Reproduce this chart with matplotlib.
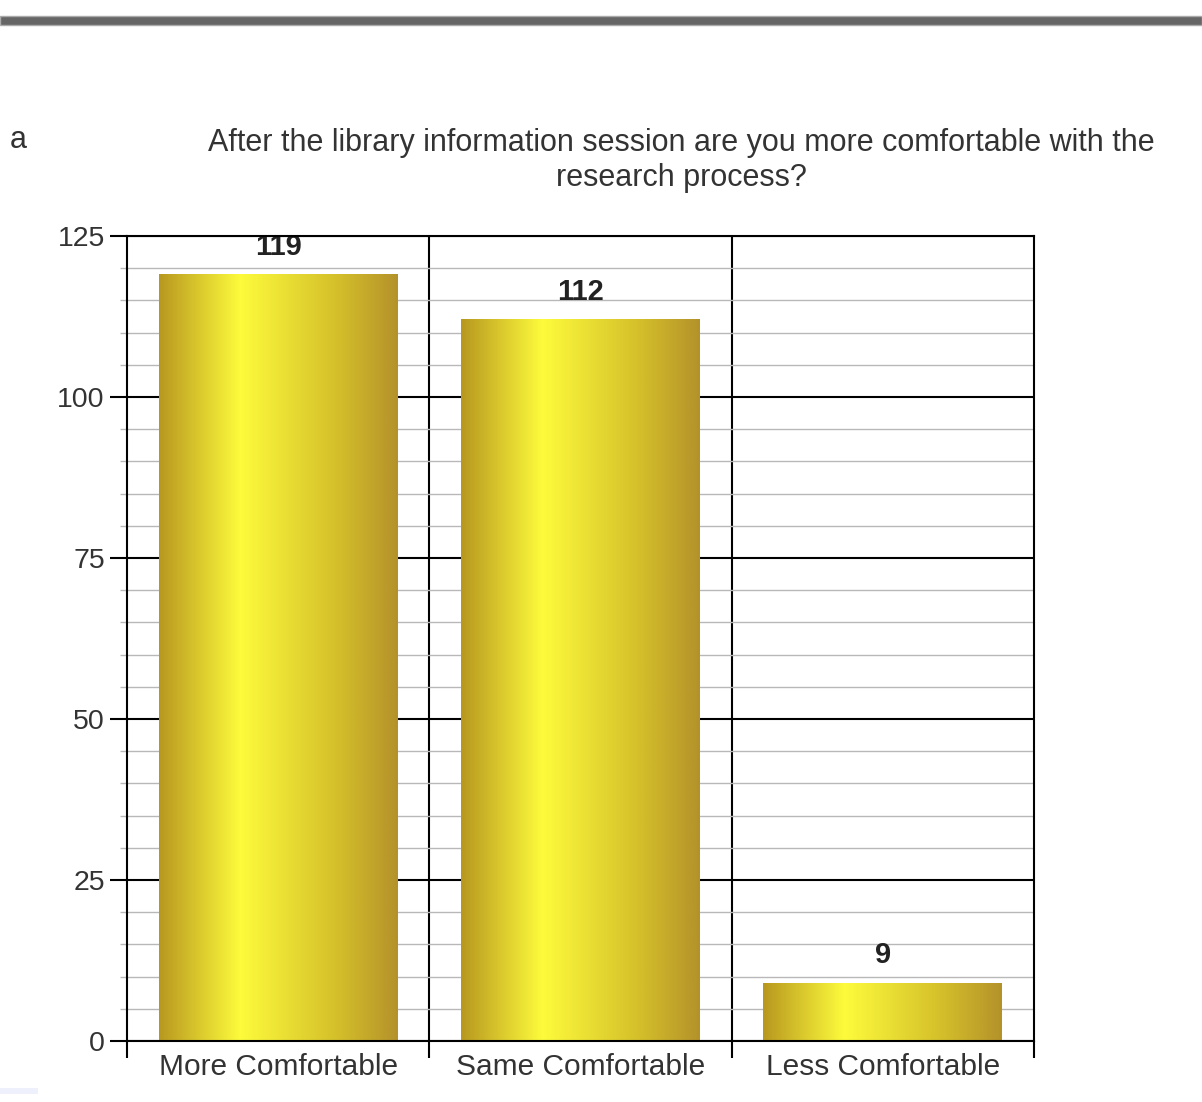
import numpy as np
import matplotlib
matplotlib.use("Agg")
import matplotlib.pyplot as plt
from matplotlib.colors import LinearSegmentedColormap
from matplotlib.patches import Rectangle

# data
categories = ["More Comfortable", "Same Comfortable", "Less Comfortable"]
counts = [119, 112, 9]
y_ticks = [0, 25, 50, 75, 100, 125]
title = "After the library information session are you more comfortable with the\nresearch process?"

plt.rcParams['font.family'] = ['Liberation Sans', 'DejaVu Sans']
text_col = "#333333"

fig = plt.figure(figsize=(12.02, 11.02), dpi=100)
ax = fig.add_axes([0.1057, 0.0554, 0.7546, 0.7305])

# page decoration: grey rule at the top, clipped word on the left
fig.add_artist(Rectangle((0, 0.9773), 1, 0.0082, transform=fig.transFigure,
                         facecolor="#666666", edgecolor="#aaaaaa", lw=1))
fig.add_artist(Rectangle((0, 0.0073), 0.032, 0.005, transform=fig.transFigure,
                         facecolor="#eef0fb", edgecolor="none"))
fig.text(0.008, 0.873, "a", fontsize=22, color=text_col, va="center")

fig.text(0.5666, 0.8545, title, ha="center", va="center", fontsize=22,
         color=text_col, linespacing=1.2)

gold = LinearSegmentedColormap.from_list(
    "gold", [(0.0, "#b8981f"), (0.34, "#fdfb3c"), (0.75, "#d4bf2a"), (1.0, "#b4922a")])
grad = np.linspace(0, 1, 256).reshape(1, -1)

width = 0.79
x = np.arange(len(categories))
for xi, v in zip(x, counts):
    ax.imshow(grad, extent=[xi - width / 2, xi + width / 2, 0, v], aspect="auto",
              cmap=gold, zorder=3, interpolation="bilinear")
    ax.annotate(str(v), (xi, v), xytext=(0, 20), textcoords="offset points",
                ha="center", va="center", fontsize=21, fontweight="bold", color="#222222")

ax.set_xlim(-0.5, len(categories) - 0.5)
ax.set_ylim(0, 125)

# grid: black majors every 25, grey minors every 5, black category separators
ax.set_yticks(y_ticks)
ax.set_yticks(np.arange(0, 126, 5), minor=True)
ax.grid(axis="y", which="major", color="black", lw=1.5, zorder=1)
ax.grid(axis="y", which="minor", color="#b8b8b8", lw=1.0, zorder=0.5)
for b in x[:-1] + 0.5:
    ax.axvline(b, color="black", lw=1.5, zorder=1)

ax.set_xticks(x)
ax.set_xticklabels(categories, fontsize=21.5, color=text_col)
ax.set_xticks(np.arange(-0.5, len(categories), 1.0), minor=True)
ax.tick_params(axis="x", which="major", length=0, pad=9)
ax.tick_params(axis="x", which="minor", length=12, width=1.5, direction="out", color="black")
ax.tick_params(axis="y", which="major", length=12, width=1.5, labelsize=20.5,
               labelcolor=text_col, pad=4)
ax.tick_params(axis="y", which="minor", length=5, width=1, color="#b8b8b8")
for s in ax.spines.values():
    s.set_linewidth(1.5)
    s.set_zorder(4)

fig.savefig("out.png", dpi=100)
